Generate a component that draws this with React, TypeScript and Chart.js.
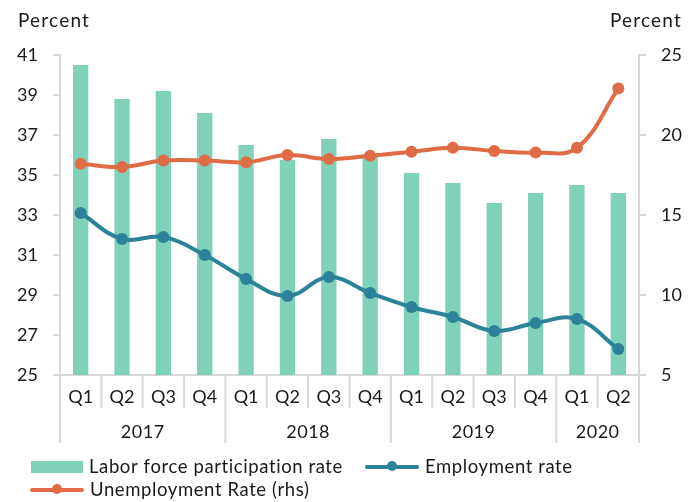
import React, { useEffect, useRef } from "react";
import { Chart, registerables } from "chart.js";
Chart.register(...registerables);

const quarters = ["Q1", "Q2", "Q3", "Q4", "Q1", "Q2", "Q3", "Q4", "Q1", "Q2", "Q3", "Q4", "Q1", "Q2"];
const years = ["2017", "2018", "2019", "2020"];
const quartersPerYear = [4, 4, 4, 2];
const laborForce = [40.5, 38.8, 39.2, 38.1, 36.5, 35.75, 36.8, 35.9, 35.1, 34.6, 33.6, 34.1, 34.5, 34.1];
const employment = [33.1, 31.8, 31.9, 31.0, 29.8, 28.95, 29.9, 29.1, 28.4, 27.9, 27.2, 27.6, 27.8, 26.3];
const unemployment = [18.2, 18.0, 18.4, 18.4, 18.3, 18.75, 18.5, 18.7, 18.95, 19.2, 19.0, 18.9, 19.2, 22.9];
const leftAxis = { min: 25, max: 41, step: 2 };
const rightAxis = { min: 5, max: 25, step: 5 };
const axisTitle = "Percent";
const seriesNames = ["Labor force participation rate", "Employment rate", "Unemployment Rate (rhs)"];

const FONT = "Lato, 'Open Sans', sans-serif";
const TEXT = "#1a1a1a";
const GRID = "#d9d9d9";
const BAR = "#80d1b9";
const TEAL = "#2c8296";
const ORANGE = "#e06c47";

const decor = {
  id: "decor",
  afterDraw(chart: any) {
    const ctx = chart.ctx;
    const xs = chart.scales.x;
    const area = chart.chartArea;
    const n = quarters.length;
    const w = (area.right - area.left) / n;
    ctx.save();
    ctx.strokeStyle = GRID;
    ctx.lineWidth = 2;
    const yearBounds = new Set<number>();
    let acc = 0;
    yearBounds.add(0);
    quartersPerYear.forEach((q) => {
      acc += q;
      yearBounds.add(acc);
    });
    for (let i = 0; i <= n; i++) {
      const bx = i < n ? xs.getPixelForValue(i) - w / 2 : xs.getPixelForValue(n - 1) + w / 2;
      const len = yearBounds.has(i) ? 68 : 33;
      ctx.beginPath();
      ctx.moveTo(bx, area.bottom);
      ctx.lineTo(bx, area.bottom + len);
      ctx.stroke();
    }
    ctx.fillStyle = TEXT;
    ctx.font = `18px ${FONT}`;
    ctx.textAlign = "center";
    ctx.textBaseline = "middle";
    ctx.letterSpacing = "0.5px";
    let start = 0;
    years.forEach((yr, k) => {
      const end = start + quartersPerYear[k] - 1;
      const cx = (xs.getPixelForValue(start) + xs.getPixelForValue(end)) / 2;
      ctx.fillText(yr, cx, area.bottom + 57);
      start = end + 1;
    });
    // axis titles
    ctx.font = `19px ${FONT}`;
    ctx.letterSpacing = "1.2px";
    ctx.textAlign = "left";
    ctx.fillText(axisTitle, 18, 21);
    ctx.textAlign = "right";
    ctx.fillText(axisTitle, 682, 21);

    // legend
    ctx.font = `18.5px ${FONT}`;
    ctx.letterSpacing = "0.6px";
    const ds = chart.data.datasets;
    ctx.textAlign = "left";
    const row1 = 467;
    const row2 = 490;
    ctx.fillStyle = ds[0].backgroundColor;
    ctx.fillRect(31, row1 - 6, 52, 12);
    ctx.fillStyle = TEXT;
    ctx.fillText(seriesNames[0], 89, row1);

    const lineItem = (x0: number, y: number, color: string, label: string) => {
      ctx.strokeStyle = color;
      ctx.lineWidth = 4;
      ctx.lineCap = "round";
      ctx.beginPath();
      ctx.moveTo(x0 + 2, y);
      ctx.lineTo(x0 + 52, y);
      ctx.stroke();
      ctx.fillStyle = color;
      ctx.beginPath();
      ctx.arc(x0 + 27, y - 1, 5, 0, Math.PI * 2);
      ctx.fill();
      ctx.fillStyle = TEXT;
      ctx.fillText(label, x0 + 60, y);
    };
    lineItem(365, row1, ds[1].borderColor, seriesNames[1]);
    lineItem(30, row2, ds[2].borderColor, seriesNames[2]);
    ctx.restore();
  },
};

export default function App() {
  const ref = useRef<HTMLCanvasElement | null>(null);
  useEffect(() => {
    if (!ref.current) return;
    const chart = new Chart(ref.current, {
      type: "bar",
      data: {
        labels: quarters,
        datasets: [
          {
            type: "bar",
            label: seriesNames[0],
            data: laborForce,
            backgroundColor: BAR,
            yAxisID: "y",
            barPercentage: 0.37,
            categoryPercentage: 1,
            order: 3,
          },
          {
            type: "line",
            label: seriesNames[1],
            data: employment,
            borderColor: TEAL,
            backgroundColor: TEAL,
            borderWidth: 4,
            pointRadius: 6,
            pointBorderWidth: 0,
            pointBackgroundColor: TEAL,
            tension: 0.4,
            yAxisID: "y",
            order: 1,
          },
          {
            type: "line",
            label: seriesNames[2],
            data: unemployment,
            borderColor: ORANGE,
            backgroundColor: ORANGE,
            borderWidth: 4,
            pointRadius: 6,
            pointBorderWidth: 0,
            pointBackgroundColor: ORANGE,
            tension: 0.4,
            yAxisID: "y2",
            order: 2,
          },
        ],
      },
      options: {
        animation: false,
        responsive: true,
        maintainAspectRatio: false,
        layout: { padding: { top: 55, bottom: 57, left: 0, right: 0 } },
        plugins: { legend: { display: false }, tooltip: { enabled: false } },
        scales: {
          x: {
            grid: { display: false, drawTicks: false },
            border: { display: true, color: GRID, width: 2 },
            ticks: { color: TEXT, font: { family: FONT, size: 18 }, padding: 11, maxRotation: 0, autoSkip: false },
            afterFit: (s: any) => {
              s.height = 70;
            },
          },
          y: {
            position: "left",
            min: leftAxis.min,
            max: leftAxis.max,
            ticks: { stepSize: leftAxis.step, color: TEXT, font: { family: FONT, size: 18 }, padding: 15 },
            grid: { drawOnChartArea: false, color: GRID, tickLength: 7, lineWidth: 2 },
            border: { color: GRID, width: 2 },
            afterFit: (s: any) => {
              s.width = 60;
            },
          },
          y2: {
            position: "right",
            min: rightAxis.min,
            max: rightAxis.max,
            ticks: { stepSize: rightAxis.step, color: TEXT, font: { family: FONT, size: 18 }, padding: 15 },
            grid: { drawOnChartArea: false, color: GRID, tickLength: 7, lineWidth: 2 },
            border: { color: GRID, width: 2 },
            afterFit: (s: any) => {
              s.width = 59;
            },
          },
        },
      },
      plugins: [decor],
    });
    return () => chart.destroy();
  }, []);
  return (
    <div style={{ position: "absolute", left: 0, top: 0, width: 698, height: 502, background: "#fff" }}>
      <canvas ref={ref} />
    </div>
  );
}
